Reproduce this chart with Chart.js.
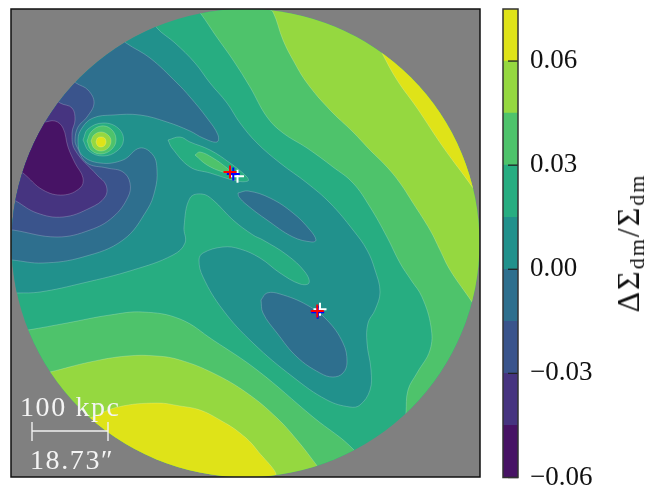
<!DOCTYPE html>
<html>
<head>
<meta charset="utf-8">
<style>
  html, body { margin: 0; padding: 0; background: #fff; }
  #wrap { position: relative; width: 654px; height: 485px; overflow: hidden; font-family: "Liberation Serif", serif; }
  canvas { position: absolute; top: 0; }
  #map { left: 0; }
  #bar { left: 490px; }
  .note { position: absolute; color: #f4f4f4; font-size: 28px; line-height: 28px; white-space: nowrap; letter-spacing: 1.6px; }
  #barTitle { position: absolute; left: 628px; top: 243px; font-size: 32px; white-space: nowrap; color: #111; letter-spacing: 2px;
    transform: translate(-50%, -50%) rotate(-90deg); line-height: 30px; }
  #barTitle sub { font-size: 22px; vertical-align: -5px; line-height: 0; }
</style>
<script src="https://cdn.jsdelivr.net/npm/chart.js@4"></script>
</head>
<body>
<div id="wrap">
  <canvas id="map" width="490" height="485"></canvas>
  <canvas id="bar" width="164" height="485"></canvas>
  <div class="note" style="left:20px;top:393px">100 kpc</div>
  <div class="note" style="left:30px;top:446px">18.73″</div>
  <div id="barTitle">ΔΣ<sub>dm</sub>/Σ<sub>dm</sub></div>
</div>
<script>
// Níveis da barra de cores
const levels = [-0.06, -0.045, -0.03, -0.015, 0, 0.015, 0.03, 0.045, 0.06, 0.075];
const bandColors = ['#471365', '#463480', '#3a548c', '#2e6f8e', '#21918c', '#27ad81', '#4ec36b', '#95d840', '#dfe318'];
const barTicks = [-0.06, -0.03, 0, 0.03, 0.06];

// Contornos (coordenadas do mapa)
const plotRange = { xMin: 11, xMax: 480, yMin: 9, yMax: 477 };
const disc = { x: 245.5, y: 243, r: 234 };

const base5 = [[11,9],[480,9],[480,477],[11,477],[11,9]];

const upper6 = [[196,9],[201,14],[216,36],[233,60],[250,87],[267,117],[283,133],[307,148],[333,167],[353,183],[370,207],[387,237],[400,263],[411,280],[422,297],[431,327],[430,350],[417,373],[408,390],[406,413],[405,430],[480,477],[480,9],[196,9]];
const upper7 = [[268,9],[273,12],[283,40],[293,60],[307,83],[330,110],[353,132],[370,150],[387,167],[400,183],[413,203],[430,230],[440,250],[450,270],[472,302],[480,315],[480,9],[268,9]];
const upper8 = [[376,40],[382,53],[397,80],[417,108],[443,147],[473,188],[480,200],[480,40],[376,40]];

const lower6 = [[11,332],[28,330],[67,323],[110,315],[143,312],[180,319],[213,340],[257,370],[313,417],[355,451],[370,477],[11,477],[11,332]];
const lower7 = [[30,376],[50,372],[90,362],[127,356],[157,356],[180,360],[213,373],[247,393],[277,418],[297,440],[318,467],[325,477],[11,477],[11,376],[30,376]];
const lower8 = [[70,425],[90,418],[118,407],[157,403],[180,406],[200,410],[220,420],[240,433],[257,450],[273,477],[60,477],[70,425]];

const main4 = [[145,9],[157,28],[175,43],[195,63],[210,83],[227,103],[240,123],[257,143],[280,163],[307,183],[330,203],[353,230],[367,250],[375,270],[380,292],[375,310],[368,323],[367,343],[371,370],[370,390],[360,405],[350,407],[327,400],[293,377],[253,343],[223,310],[203,277],[199,260],[203,253],[223,247],[240,249],[260,258],[280,273],[300,284],[309,283],[305,272],[287,255],[263,240],[253,235],[233,220],[213,200],[202,194],[190,198],[184,227],[185,243],[173,255],[133,270],[83,283],[40,292],[17,293],[11,293],[11,9],[145,9]];
const left3 = [[110,30],[126,43],[150,58],[177,83],[190,97],[207,118],[218,135],[217,142],[203,138],[190,131],[167,122],[140,115],[113,115],[93,118],[82,128],[78,140],[82,155],[100,163],[123,160],[140,148],[153,155],[157,170],[155,190],[147,210],[123,240],[83,257],[43,263],[12,260],[11,260],[11,9],[110,9],[110,30]];
const left2 = [[62,72],[76,83],[88,90],[94,103],[87,117],[78,127],[75,140],[77,147],[87,163],[107,168],[123,172],[130,183],[128,197],[113,217],[90,230],[57,237],[13,230],[11,230],[11,72],[62,72]];
const left1 = [[50,95],[60,103],[72,108],[75,120],[72,133],[75,150],[97,175],[106,185],[105,197],[90,208],[63,217],[37,213],[16,201],[11,198],[11,95],[50,95]];
const left0 = [[30,118],[43,122],[55,121],[63,128],[68,147],[75,163],[83,178],[80,188],[63,195],[43,190],[23,173],[11,165],[11,118],[30,118]];

const ridge5 = [[168,140],[180,137],[190,142],[210,150],[230,163],[247,177],[248,181],[237,181],[210,173],[190,167],[172,148],[168,140]];
const ridge6 = [[195,155],[200,152],[213,158],[227,168],[232,173],[223,172],[207,165],[195,155]];
const hollowA3 = [[238,193],[248,191],[270,198],[293,213],[310,230],[316,240],[312,242],[293,237],[267,220],[247,205],[239,197],[238,193]];
const hollowB3 = [[261,300],[267,293],[280,294],[307,305],[327,320],[343,343],[347,362],[343,373],[333,377],[320,373],[297,357],[277,333],[263,313],[261,300]];

const blob5 = [[83,140],[88,129],[103,123],[118,128],[123.5,140],[117,151],[103,156],[89,151],[83,140]];
const blob6 = [[87,141],[91,132],[101,126],[111,129],[116,139],[112,149],[101,154],[91,150],[87,141]];
const blob7 = [[91,141],[94,135],[101,132],[108,135],[111,141],[108,148],[101,151],[94,148],[91,141]];
const blob8 = [[96,142],[97.5,138],[101,137],[104.5,138],[106,142],[104.5,145.5],[101,147],[97.5,145.5],[96,142]];

// Cruzes das posições dos halos
const redMarks = [[230,172],[317.3,311]];
const blueMarks = [[233.3,174],[317.7,312.3]];
const whiteMarks = [[237.5,176.3],[320,309.3]];

// Barra de escala
const scaleBar = [[32,431],[108,431]];
const scaleCapL = [[32,422],[32,441]];
const scaleCapR = [[108,422],[108,441]];

const toPoints = (list) => list.map(p => ({ x: p[0], y: p[1] }));

function region(list, band) {
    return {
        data: toPoints(list),
        showLine: true,
        fill: 'shape',
        backgroundColor: bandColors[band],
        borderColor: 'rgba(255,255,255,0.3)',
        borderWidth: 0.7,
        tension: 0.4,
        pointRadius: 0
    };
}

function marks(list, color) {
    return {
        data: toPoints(list),
        pointStyle: 'cross',
        pointRadius: 6.5,
        pointBorderWidth: 2,
        pointBorderColor: color,
        showLine: false
    };
}

function rule(list) {
    return { data: toPoints(list), showLine: true, borderColor: '#f0f0f0', borderWidth: 1.4, pointRadius: 0, tension: 0 };
}

// Chart.js desenha do último para o primeiro: primeiro vêm as marcas, depois as regiões invertidas
const overlays = [marks(redMarks, '#ff0000'), marks(blueMarks, '#0000ff'), marks(whiteMarks, '#ffffff'),
    rule(scaleBar), rule(scaleCapL), rule(scaleCapR)];
const regions = [
    region(base5, 5),
    region(upper6, 6), region(upper7, 7), region(upper8, 8),
    region(lower6, 6), region(lower7, 7), region(lower8, 8),
    region(main4, 4), region(left3, 3), region(left2, 2), region(left1, 1), region(left0, 0),
    region(ridge5, 5), region(ridge6, 6), region(hollowA3, 3), region(hollowB3, 3),
    region(blob5, 5), region(blob6, 6), region(blob7, 7), region(blob8, 8)
];

const discPlugin = {
    id: 'discClip',
    beforeDatasetsDraw(chart) {
        const { ctx, chartArea: a, scales } = chart;
        ctx.save();
        ctx.fillStyle = '#808080';
        ctx.fillRect(a.left, a.top, a.width, a.height);
        const cx = scales.x.getPixelForValue(disc.x);
        const cy = scales.y.getPixelForValue(disc.y);
        const r = scales.x.getPixelForValue(disc.x + disc.r) - cx;
        ctx.beginPath();
        ctx.arc(cx, cy, r, 0, Math.PI * 2);
        ctx.clip();
    },
    afterDatasetDraw(chart, args) {
        if (args.index === overlays.length) chart.ctx.restore();
    },
    afterDraw(chart) {
        const { ctx, chartArea: a } = chart;
        ctx.save();
        ctx.strokeStyle = '#111';
        ctx.lineWidth = 1.5;
        ctx.strokeRect(a.left, a.top, a.width, a.height);
        ctx.restore();
    }
};

new Chart(document.getElementById('map').getContext('2d'), {
    type: 'scatter',
    data: { datasets: overlays.concat(regions.slice().reverse()) },
    plugins: [discPlugin],
    options: {
        responsive: false,
        animation: false,
        layout: { autoPadding: false, padding: { left: 11, top: 9, right: 10, bottom: 8 } },
        plugins: { legend: { display: false }, tooltip: { enabled: false } },
        scales: {
            x: { type: 'linear', min: plotRange.xMin, max: plotRange.xMax, display: false },
            y: { type: 'linear', min: plotRange.yMin, max: plotRange.yMax, reverse: true, display: false }
        }
    }
});

// Ticks internos da barra de cores
const barPlugin = {
    id: 'barFrame',
    afterDraw(chart) {
        const { ctx, chartArea: a, scales } = chart;
        ctx.save();
        ctx.strokeStyle = '#222';
        ctx.lineWidth = 1.3;
        barTicks.forEach(t => {
            const y = scales.y.getPixelForValue(t);
            ctx.beginPath();
            ctx.moveTo(a.right - 10, y);
            ctx.lineTo(a.right, y);
            ctx.stroke();
        });
        ctx.lineWidth = 1.5;
        ctx.strokeStyle = '#333';
        ctx.strokeRect(a.left, a.top, a.width, a.height);
        ctx.restore();
    }
};

new Chart(document.getElementById('bar').getContext('2d'), {
    type: 'bar',
    data: {
        labels: [''],
        datasets: bandColors.map((c, i) => ({
            data: [[levels[i], levels[i + 1]]],
            backgroundColor: c,
            barPercentage: 1,
            categoryPercentage: 1,
            grouped: false
        }))
    },
    plugins: [barPlugin],
    options: {
        responsive: false,
        animation: false,
        layout: { autoPadding: false, padding: { left: 13, top: 9, right: 0, bottom: 7.5 } },
        plugins: { legend: { display: false }, tooltip: { enabled: false } },
        scales: {
            x: { display: false },
            y: {
                position: 'right',
                min: -0.06,
                max: 0.075,
                afterFit(scale) {
                    scale.width = 136;
                    // sem reserva extra para os rótulos: a barra ocupa toda a altura
                    scale.paddingTop = 0;
                    scale.paddingBottom = 0;
                },
                afterBuildTicks(scale) { scale.ticks = barTicks.map(v => ({ value: v })); },
                grid: { display: false },
                border: { display: false },
                ticks: {
                    color: '#111',
                    padding: 4,
                    font: { family: '"Liberation Serif", serif', size: 27 },
                    crossAlign: 'near',
                    callback: (v) => (v < 0 ? '\u2212' : '') + Math.abs(v).toFixed(2)
                }
            }
        }
    }
});
</script>
</body>
</html>
